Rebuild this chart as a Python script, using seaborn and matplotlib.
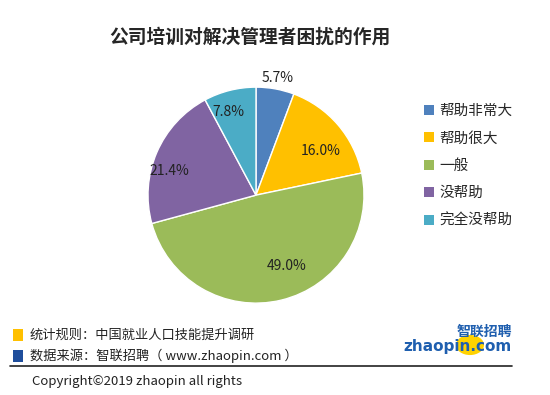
import numpy as np
import matplotlib
matplotlib.use("Agg")
import matplotlib.pyplot as plt
import seaborn as sns
from matplotlib.patches import Rectangle, Circle

sns.set_theme(style="white")
plt.rcParams['font.family'] = ['Noto Sans CJK SC', 'DejaVu Sans']

title = "公司培训对解决管理者困扰的作用"
categories = ["帮助非常大", "帮助很大", "一般", "没帮助", "完全没帮助"]
values = [5.7, 16.0, 49.0, 21.4, 7.8]
colors = ["#4F81BD", "#FFC000", "#9BBB59", "#8064A2", "#4BACC6"]
label_dist = [1.1, 0.73, 0.72, 0.83, 0.81]
label_shift = [0, -6.4, 10, 7.6, 4.3]

fig = plt.figure(figsize=(5.5, 3.95), dpi=100)
fig.patch.set_facecolor("white")

ax = fig.add_axes([0.4655 - 0.1964, 0.506 - 0.2734, 0.3927, 0.5468])
wedges, _ = ax.pie(values, colors=colors, startangle=90, counterclock=False,
                   wedgeprops=dict(edgecolor="white", linewidth=1.0))
ax.set_aspect("equal")
ax.set_xlim(-1, 1)
ax.set_ylim(-1, 1)
for w, v, d, s in zip(wedges, values, label_dist, label_shift):
    ang = np.deg2rad((w.theta1 + w.theta2) / 2 + s)
    ax.text(d * np.cos(ang), d * np.sin(ang), f"{v:.1f}%", ha="center", va="center",
            fontsize=10, color="#222222", clip_on=False)

# legend
handles = [Rectangle((0, 0), 1, 1, facecolor=c, edgecolor="none") for c in colors]
fig.legend(handles, categories, loc="upper left", bbox_to_anchor=(0.758, 0.755),
           frameon=False, fontsize=10.5, handlelength=0.65, handleheight=0.65,
           handletextpad=0.4, labelspacing=0.92, borderpad=0)

fig.text(0.455, 0.905, title, ha="center", va="center", fontsize=13.5, fontweight="bold")

# footer
fig.patches.append(Rectangle((13/550, 1-341/395), 10/550, 12/395, transform=fig.transFigure,
                             facecolor="#FFC000", edgecolor="none"))
fig.patches.append(Rectangle((13/550, 1-362/395), 10/550, 12/395, transform=fig.transFigure,
                             facecolor="#1F4E9C", edgecolor="none"))
fig.text(30/550, 1-335/395, "统计规则：中国就业人口技能提升调研", fontsize=9.5, va="center", color="#222222")
fig.text(30/550, 1-356/395, "数据来源：智联招聘（ www.zhaopin.com ）", fontsize=9.5, va="center", color="#222222")
fig.add_artist(plt.Line2D([10/550, 512/550], [1-366/395, 1-366/395], color="#222222", lw=1.2,
                          transform=fig.transFigure))
fig.text(32/550, 1-381/395, "Copyright©2019 zhaopin all rights", fontsize=9.5, va="center", color="#222222")

# logo
fig.patches.append(Circle((470/550, 1-345/395), 14/550, transform=fig.transFigure,
                          facecolor="#FFD200", edgecolor="none"))
fig.text(512/550, 1-332/395, "智联招聘", fontsize=10, fontweight="bold", ha="right", va="center",
         color="#1F5FAF", style="italic")
fig.text(512/550, 1-347/395, "zhaopin.com", fontsize=11, fontweight="bold", ha="right", va="center",
         color="#1F5FAF", family=["DejaVu Sans"])

fig.savefig("out.png", dpi=100, facecolor="white")
